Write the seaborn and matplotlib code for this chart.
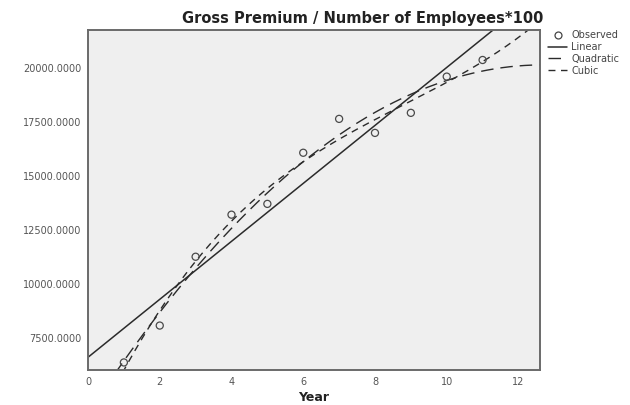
import numpy as np
import pandas as pd
import matplotlib
matplotlib.use("Agg")
import matplotlib.pyplot as plt
import seaborn as sns
from matplotlib.lines import Line2D

# Observed gross premium per employee (x100) by year
years = [1, 2, 3, 4, 5, 6, 7, 8, 9, 10, 11]
premium = [6350, 8060, 11250, 13200, 13700, 16070, 17640, 16990, 17920, 19600, 20370]

y_ticks = [7500, 10000, 12500, 15000, 17500, 20000]
x_ticks = [0, 2, 4, 6, 8, 10, 12]

sns.set_theme(style="white")
plt.rcParams["font.family"] = ["DejaVu Sans"]

fig = plt.figure(figsize=(6.3, 4.05), dpi=100)
ax = fig.add_axes([88 / 630, 35 / 405, 452 / 630, 340 / 405])
ax.set_facecolor("#efefef")

obs = pd.DataFrame({"Year": years, "Premium": premium})

# Least-squares curve fits of order 1, 2 and 3
grid = np.linspace(0, 12.6, 300)
fits = {}
for name, deg in [("Linear", 1), ("Quadratic", 2), ("Cubic", 3)]:
    coef = np.polyfit(years, premium, deg)
    fits[name] = pd.DataFrame({"Year": grid, "Premium": np.polyval(coef, grid)})

line_col = "#2b2b2b"
sns.lineplot(data=fits["Linear"], x="Year", y="Premium", ax=ax,
             color=line_col, lw=1.1)
sns.lineplot(data=fits["Quadratic"], x="Year", y="Premium", ax=ax,
             color=line_col, lw=1.0)
ax.lines[-1].set_dashes((9, 5))
sns.lineplot(data=fits["Cubic"], x="Year", y="Premium", ax=ax,
             color=line_col, lw=1.0)
ax.lines[-1].set_dashes((5, 4))

sns.scatterplot(data=obs, x="Year", y="Premium", ax=ax, marker="o",
                s=26, facecolor="none", edgecolor="#4a4a4a", linewidth=0.9,
                zorder=5)

ax.set_xlim(0, 12.6)
ax.set_ylim(6000, 21760)
ax.set_xticks(x_ticks)
ax.set_yticks(y_ticks)
ax.set_xticklabels([str(t) for t in x_ticks], fontsize=7, color="#555555")
ax.set_yticklabels([f"{t:.4f}" for t in y_ticks], fontsize=7, color="#555555")
ax.tick_params(axis="y", direction="out", length=4, width=0.8, color="#555555", pad=1)
ax.tick_params(axis="x", direction="inout", length=6, width=0.8, color="#555555", pad=2)
ax.set_xlabel("Year", fontsize=9, fontweight="bold", color="#222222", labelpad=3)
ax.set_ylabel("")

for side in ["left", "right", "top", "bottom"]:
    ax.spines[side].set_visible(True)
    ax.spines[side].set_color("#6a6a6a")
    ax.spines[side].set_linewidth(1.4)

fig.text(363 / 630, 1 - 18 / 405, "Gross Premium / Number of Employees*100",
         ha="center", va="center", fontsize=10.5, fontweight="bold", color="#222222")

handles = [
    Line2D([], [], ls="none", marker="o", markersize=5, markerfacecolor="none",
           markeredgecolor="#444444", markeredgewidth=0.9),
    Line2D([], [], color=line_col, lw=1.1),
    Line2D([], [], color=line_col, lw=1.0, dashes=(9, 5)),
    Line2D([], [], color=line_col, lw=1.0, dashes=(5, 4)),
]
fig.legend(handles, ["Observed", "Linear", "Quadratic", "Cubic"],
           loc="upper left", bbox_to_anchor=(548 / 630, 1 - 30 / 405),
           frameon=False, fontsize=7, handlelength=2.0, handletextpad=0.4,
           labelspacing=0.2, borderaxespad=0, borderpad=0,
           labelcolor="#444444")

fig.savefig("out.png", dpi=100, facecolor="white")
